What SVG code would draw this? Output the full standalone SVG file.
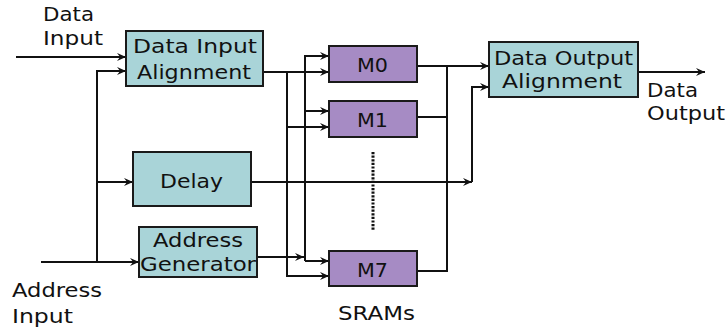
<svg xmlns="http://www.w3.org/2000/svg" width="728" height="331" viewBox="0 0 728 331">
  <defs>
    <marker id="ah" viewBox="0 0 10 10" refX="10" refY="5" markerWidth="10" markerHeight="9" orient="auto" markerUnits="userSpaceOnUse">
      <path d="M0,0.5 L10,5 L0,9.5 L3.5,5 Z" fill="#111"/>
    </marker>
    <style>
      .blk { stroke: #1a1a1a; stroke-width: 2; }
      .teal { fill: #a9d4d8; }
      .sram { fill: #a68bc4; }
      .wire { fill: none; stroke: #111; stroke-width: 2; }
      .arr { marker-end: url(#ah); }
      text { font-family: "DejaVu Sans", Verdana, sans-serif; font-size: 20px; fill: #111; }
    </style>
  </defs>
  <rect width="728" height="331" fill="#ffffff"/>

  <!-- wiring -->
  <g id="connectors">
    <path class="wire arr" d="M16,57 H126"/>
    <path class="wire arr" d="M41,262 H139"/>
    <path class="wire arr" d="M97,262 V71 H126"/>
    <path class="wire arr" d="M97,182 H133"/>
    <!-- aligned data bus -->
    <path class="wire arr" d="M263,72 H329"/>
    <path class="wire arr" d="M287,72 V276 H329"/>
    <path class="wire arr" d="M287,127 H329"/>
    <!-- address bus -->
    <path class="wire arr" d="M305,261 V56 H329"/>
    <path class="wire arr" d="M305,111 H329"/>
    <path class="wire arr" d="M305,261 H329"/>
    <path class="wire arr" d="M257,257 H304"/>
    <!-- delay path -->
    <path class="wire arr" d="M251,182 H472"/>
    <path class="wire arr" d="M472,182 V87 H489"/>
    <!-- read data -->
    <path class="wire arr" d="M417,66 H489"/>
    <path class="wire" d="M417,117 H447"/>
    <path class="wire" d="M417,271 H447 V66"/>
    <path class="wire arr" d="M638,72 H705"/>
    <!-- remaining SRAMs -->
    <path d="M373,152 V231" fill="none" stroke="#111" stroke-width="3" stroke-dasharray="2.2 1.4"/>
  </g>

  <g id="dia">
    <rect class="blk teal" x="126" y="31" width="137" height="55"/>
    <text x="133" y="53" textLength="124" lengthAdjust="spacingAndGlyphs">Data Input</text>
    <text x="137" y="79" textLength="114" lengthAdjust="spacingAndGlyphs">Alignment</text>
  </g>
  <g id="delay">
    <rect class="blk teal" x="133" y="152" width="118" height="54"/>
    <text x="160" y="188" textLength="63" lengthAdjust="spacingAndGlyphs">Delay</text>
  </g>
  <g id="addrgen">
    <rect class="blk teal" x="139" y="227" width="118" height="50"/>
    <text x="153" y="247" textLength="90" lengthAdjust="spacingAndGlyphs">Address</text>
    <text x="140" y="271" textLength="116" lengthAdjust="spacingAndGlyphs">Generator</text>
  </g>
  <g id="m0">
    <rect class="blk sram" x="329" y="46" width="88" height="36"/>
    <text x="357" y="72" textLength="31" lengthAdjust="spacingAndGlyphs">M0</text>
  </g>
  <g id="m1">
    <rect class="blk sram" x="329" y="101" width="88" height="36"/>
    <text x="357" y="127" textLength="31" lengthAdjust="spacingAndGlyphs">M1</text>
  </g>
  <g id="m7">
    <rect class="blk sram" x="329" y="251" width="88" height="35"/>
    <text x="357" y="277" textLength="31" lengthAdjust="spacingAndGlyphs">M7</text>
  </g>
  <g id="doa">
    <rect class="blk teal" x="489" y="42" width="149" height="55"/>
    <text x="494" y="65" textLength="139" lengthAdjust="spacingAndGlyphs">Data Output</text>
    <text x="502" y="88" textLength="120" lengthAdjust="spacingAndGlyphs">Alignment</text>
  </g>

  <g id="labels">
    <text x="43" y="21" textLength="51" lengthAdjust="spacingAndGlyphs">Data</text>
    <text x="43" y="45" textLength="60" lengthAdjust="spacingAndGlyphs">Input</text>
    <text x="647" y="97" textLength="51" lengthAdjust="spacingAndGlyphs">Data</text>
    <text x="647" y="119.5" textLength="78" lengthAdjust="spacingAndGlyphs">Output</text>
    <text x="12" y="296.5" textLength="90" lengthAdjust="spacingAndGlyphs">Address</text>
    <text x="12" y="323" textLength="61" lengthAdjust="spacingAndGlyphs">Input</text>
    <text x="338" y="320" textLength="77" lengthAdjust="spacingAndGlyphs">SRAMs</text>
  </g>
</svg>
